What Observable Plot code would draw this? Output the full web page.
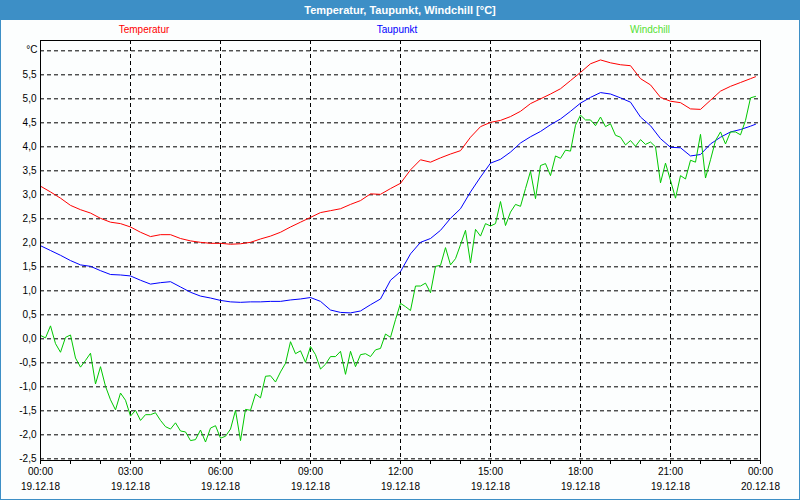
<!DOCTYPE html>
<html>
<head>
<meta charset="utf-8">
<script src="https://cdn.jsdelivr.net/npm/d3@7"></script>
<script src="https://cdn.jsdelivr.net/npm/@observablehq/plot@0.6"></script>
<style>
  html, body { margin: 0; padding: 0; background: #ffffff; }
  #wrap { position: relative; width: 800px; height: 500px; background: #fcfefe; overflow: hidden;
          font-family: "Liberation Sans", Arial, sans-serif; }
  #title { position: absolute; left: 0; top: 0; width: 800px; height: 20px; background: #3d8fc6;
           color: #ffffff; font-weight: bold; font-size: 11px; line-height: 20px; text-align: center; }
  #border { position: absolute; left: 0; top: 0; width: 800px; height: 500px; box-sizing: border-box;
            border: 1px solid #3d8fc6; border-top: none; pointer-events: none; }
  .leg { position: absolute; top: 24px; font-size: 10px; transform: translateX(-50%); white-space: nowrap; }
  #chart { position: absolute; left: 0; top: 0; }
</style>
</head>
<body>
<div id="wrap">
  <div id="title">Temperatur, Taupunkt, Windchill [°C]</div>
  <div id="chart"></div>
  <div class="leg" id="leg0"></div>
  <div class="leg" id="leg1"></div>
  <div class="leg" id="leg2"></div>
  <div id="border"></div>
</div>
<script>
// ---- Data ----
const seriesNames = ["Temperatur", "Taupunkt", "Windchill"];
const seriesColors = ["#ff0000", "#0000ff", "#00c800"];
const legendColors = ["#ff0000", "#0000ff", "#55e030"];
const legendX = [144, 397, 650];

// minutes after 19.12.18 00:00; Temperatur & Taupunkt every 20 min (last at 23:50)
const minutesTD = [0,20,40,60,80,100,120,140,160,180,200,220,240,260,280,300,320,340,
  360,380,400,420,440,460,480,500,520,540,560,580,600,620,640,660,680,700,
  720,740,760,780,800,820,840,860,880,900,920,940,960,980,1000,1020,1040,1060,
  1080,1100,1120,1140,1160,1180,1200,1220,1240,1260,1280,1300,1320,1340,1360,1380,1400,1420,1430];

const temperatur = [3.18,3.06,2.93,2.78,2.69,2.62,2.51,2.43,2.40,2.33,2.22,2.13,2.17,2.17,2.09,2.04,2.01,1.99,
  1.99,1.97,1.98,2.01,2.08,2.14,2.22,2.33,2.43,2.53,2.63,2.67,2.71,2.80,2.88,3.02,3.01,3.13,
  3.24,3.52,3.73,3.68,3.77,3.85,3.92,4.20,4.42,4.51,4.55,4.63,4.74,4.90,5.00,5.10,5.21,5.38,
  5.55,5.73,5.81,5.75,5.71,5.69,5.42,5.29,5.03,4.95,4.92,4.79,4.78,4.97,5.16,5.26,5.34,5.42,5.46];

const taupunkt = [1.94,1.84,1.74,1.63,1.54,1.51,1.42,1.34,1.33,1.31,1.22,1.14,1.17,1.19,1.08,0.97,0.89,0.85,
  0.80,0.77,0.76,0.77,0.77,0.78,0.78,0.81,0.83,0.86,0.78,0.60,0.55,0.54,0.58,0.71,0.83,1.22,
  1.40,1.77,2.01,2.09,2.26,2.51,2.71,3.06,3.37,3.66,3.74,3.89,4.08,4.21,4.32,4.46,4.58,4.74,
  4.91,5.03,5.13,5.10,5.02,4.93,4.62,4.44,4.17,3.99,3.98,3.81,3.84,4.06,4.20,4.31,4.36,4.43,4.47];

// Windchill every 10 min, 00:00 .. 23:50
const minutesW = [0,10,20,30,40,50,60,70,80,90,100,110,120,130,140,150,160,170,180,190,200,210,220,230,
  240,250,260,270,280,290,300,310,320,330,340,350,360,370,380,390,400,410,420,430,440,450,460,470,
  480,490,500,510,520,530,540,550,560,570,580,590,600,610,620,630,640,650,660,670,680,690,700,710,
  720,730,740,750,760,770,780,790,800,810,820,830,840,850,860,870,880,890,900,910,920,930,940,950,
  960,970,980,990,1000,1010,1020,1030,1040,1050,1060,1070,1080,1090,1100,1110,1120,1130,1140,1150,1160,1170,1180,1190,
  1200,1210,1220,1230,1240,1250,1260,1270,1280,1290,1300,1310,1320,1330,1340,1350,1360,1370,1380,1390,1400,1410,1420,1430];

const windchill = [0.07,0.02,0.27,-0.10,-0.28,0.03,0.08,-0.40,-0.59,-0.45,-0.30,-0.94,
  -0.58,-0.99,-1.27,-1.48,-1.13,-1.28,-1.61,-1.49,-1.70,-1.58,-1.58,-1.54,
  -1.70,-1.83,-1.88,-1.75,-1.92,-1.94,-2.12,-2.10,-1.90,-2.15,-1.86,-1.81,
  -2.07,-2.03,-1.88,-1.49,-2.12,-1.47,-1.49,-1.15,-1.23,-0.78,-0.77,-0.90,
  -0.69,-0.51,-0.06,-0.31,-0.25,-0.49,-0.16,-0.33,-0.63,-0.53,-0.37,-0.37,
  -0.26,-0.74,-0.26,-0.58,-0.33,-0.31,-0.37,-0.23,-0.20,0.10,0.03,0.40,
  0.74,0.67,0.59,1.10,1.10,1.16,0.96,1.51,1.53,1.90,1.54,1.67,
  1.96,2.26,1.58,2.28,2.14,2.40,2.35,2.40,2.86,2.36,2.64,2.80,
  2.76,3.13,3.49,2.92,3.61,3.65,3.40,3.81,3.76,3.93,3.91,4.45,
  4.66,4.56,4.56,4.44,4.62,4.42,4.48,4.24,4.20,4.04,4.13,4.01,
  4.15,4.05,4.10,4.00,3.25,3.66,3.30,2.93,3.40,3.33,3.72,3.68,
  4.26,3.35,3.73,4.13,4.31,4.06,4.31,4.31,4.25,4.55,5.02,5.05];

// axis ticks
const xMajorMinutes = [0,180,360,540,720,900,1080,1260,1440];
const xTimeLabels = ["00:00","03:00","06:00","09:00","12:00","15:00","18:00","21:00","00:00"];
const xDateLabels = ["19.12.18","19.12.18","19.12.18","19.12.18","19.12.18","19.12.18","19.12.18","19.12.18","20.12.18"];
const xMinorMinutes = [0,60,120,180,240,300,360,420,480,540,600,660,720,780,840,900,960,1020,1080,1140,1200,1260,1320,1380,1440];
const yGridValues = [-2.5,-2,-1.5,-1,-0.5,0,0.5,1,1.5,2,2.5,3,3.5,4,4.5,5,5.5,6];
const yTickValues = [-2.5,-2,-1.5,-1,-0.5,0,0.5,1,1.5,2,2.5,3,3.5,4,4.5,5,5.5];
const yTickLabels = ["-2,5","-2,0","-1,5","-1,0","-0,5","0,0","0,5","1,0","1,5","2,0","2,5","3,0","3,5","4,0","4,5","5,0","5,5"];
const yUnit = "°C";

// ---- Build tables ----
const rows = [];
minutesTD.forEach((m, i) => {
  rows.push({t: m, v: temperatur[i], s: seriesNames[0]});
});
minutesTD.forEach((m, i) => {
  rows.push({t: m, v: taupunkt[i], s: seriesNames[1]});
});
minutesW.forEach((m, i) => {
  rows.push({t: m, v: windchill[i], s: seriesNames[2]});
});
const xTicks = xMajorMinutes.map((m, i) => ({t: m, time: xTimeLabels[i], date: xDateLabels[i]}));
const yLabelMap = new Map(yTickValues.map((v, i) => [v, yTickLabels[i]]));

const font = "Liberation Sans, Arial, sans-serif";

const chart = Plot.plot({
  width: 800,
  height: 500,
  marginLeft: 40,
  marginRight: 40,
  marginTop: 40,
  marginBottom: 40,
  style: {background: "transparent", fontFamily: font, fontSize: "10px", color: "#000"},
  x: {domain: [0, 1440], axis: null, label: null},
  y: {domain: [-2.535, 6.215], axis: null, label: null},
  color: {domain: seriesNames, range: seriesColors},
  marks: [
    Plot.gridY(yGridValues, {stroke: "#000", strokeOpacity: 1, strokeDasharray: "4,3"}),
    Plot.gridX(xMajorMinutes, {stroke: "#000", strokeOpacity: 1, strokeDasharray: "4,3"}),
    Plot.line(rows, {x: "t", y: "v", z: "s", stroke: "s", strokeWidth: 1, curve: "linear"}),
    Plot.frame({stroke: "#000", strokeWidth: 1}),
    Plot.axisX({ticks: xMinorMinutes, tickSize: 4, tickFormat: () => "", stroke: "#000", label: null}),
    Plot.text(xTicks, {x: "t", text: "time", frameAnchor: "bottom", dy: 14, fill: "#000", fontSize: 10}),
    Plot.text(xTicks, {x: "t", text: "date", frameAnchor: "bottom", dy: 29, fill: "#000", fontSize: 10}),
    Plot.axisY({ticks: yTickValues, tickSize: 0, tickPadding: 4, tickFormat: d => yLabelMap.get(d), fill: "#000", fontSize: 10, label: null}),
    Plot.text([yUnit], {text: d => d, frameAnchor: "top-left", dx: -3, dy: 5, textAnchor: "end", fill: "#000", fontSize: 10})
  ]
});
document.getElementById("chart").appendChild(chart);

seriesNames.forEach((n, i) => {
  const el = document.getElementById("leg" + i);
  el.textContent = n;
  el.style.left = legendX[i] + "px";
  el.style.color = legendColors[i];
});
</script>
</body>
</html>
